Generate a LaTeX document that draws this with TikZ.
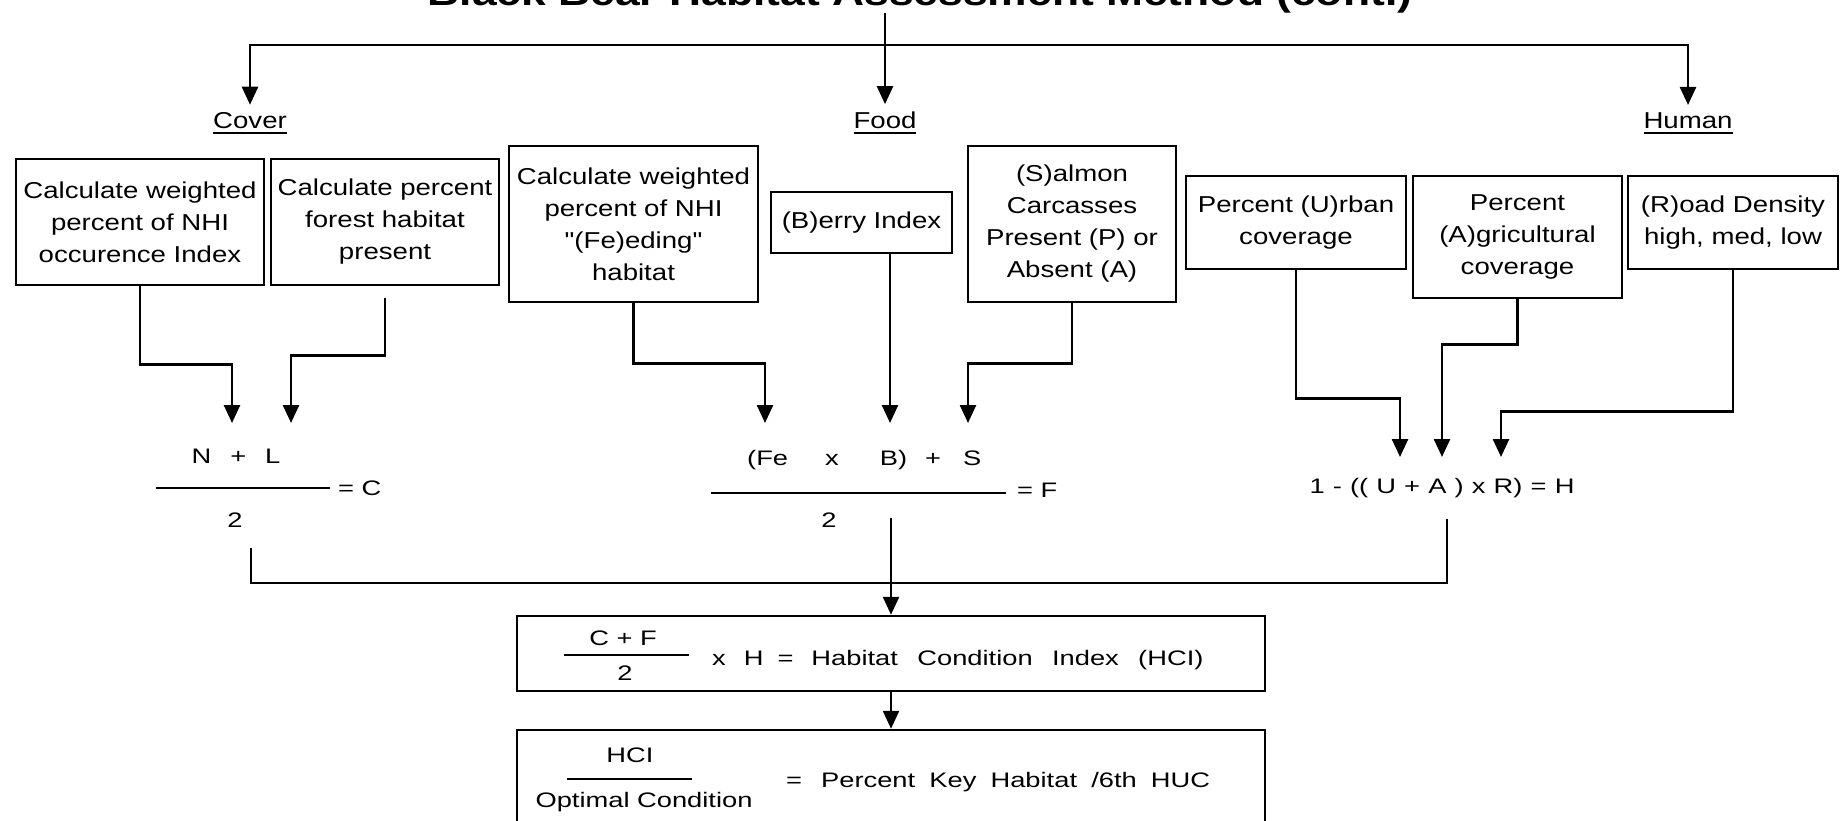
\documentclass[tikz,border=0pt]{standalone}
\usepackage{fontspec}
\setmainfont{Liberation Sans}[FakeStretch=1.2, Ligatures=TeXOff]
\newfontfamily\fmlfam{Liberation Sans}[FakeStretch=1.3, Ligatures=TeXOff]
\usetikzlibrary{arrows.meta}
\newcommand\boxfont{\fontsize{23}{32}\selectfont}
\newcommand\fmlfont{\fmlfam\fontsize{21}{26}\selectfont}
\newcommand\myul[1]{\setbox0\hbox{#1}\rlap{\rule[-6pt]{\wd0}{2pt}}\box0}
\begin{document}
\begin{tikzpicture}[x=1pt,y=-1pt,
  every node/.style={inner sep=0pt},
  box/.style={draw, line width=2.5pt, align=center, font=\boxfont, inner sep=0pt},
  ln/.style={line width=2.5pt},
  arr/.style={line width=2.5pt, -{Triangle[width=16pt,length=18pt]}},
  fml/.style={font=\fmlfont, anchor=base},
  lbl/.style={font=\boxfont, anchor=base, inner xsep=0pt, inner ysep=7pt}
]
\useasboundingbox (0,0) rectangle (1845,820);
\clip (0,0) rectangle (1845,820);
\fill[white] (0,0) rectangle (1845,820);

% title (cut off at the top, as in the reference)
\node[font=\fontsize{37}{40}\selectfont\bfseries, anchor=base] (title) at (920,5) {Black Bear Habitat Assessment Method (cont.)};

% category labels
\node[lbl] (cover) at (250,128) {\myul{Cover}};
\node[lbl] (food) at (885,128) {\myul{Food}};
\node[lbl] (human) at (1688,128) {\myul{Human}};

\coordinate (jt) at (885,45);
\draw[arr] (food.north |- title.south) -- (food.north);
\draw[ln] (cover.north |- jt) -- (human.north |- jt);
\draw[arr] (jt) -| (cover.north);
\draw[arr] (jt) -| (human.north);

% input boxes
\node[box, minimum width=248pt, minimum height=126pt] (b1) at (140,222) {Calculate weighted\\percent of NHI\\occurence Index};
\node[box, minimum width=228pt, minimum height=126pt] (b2) at (385,222) {Calculate percent\\forest habitat\\present};
\node[box, minimum width=249pt, minimum height=156pt] (b3) at (633.5,224) {Calculate weighted\\percent of NHI\\"(Fe)eding"\\habitat};
\node[box, minimum width=181pt, minimum height=61pt] (b4) at (861.5,222.5) {(B)erry Index};
\node[box, minimum width=208pt, minimum height=156pt] (b5) at (1072,224) {(S)almon\\Carcasses\\Present (P) or\\Absent (A)};
\node[box, minimum width=220pt, minimum height=93pt] (b6) at (1296,222.5) {Percent (U)rban\\coverage};
\node[box, minimum width=209pt, minimum height=122pt] (b7) at (1517.5,237) {Percent\\(A)gricultural\\coverage};
\node[box, minimum width=210pt, minimum height=93pt] (b8) at (1733,222.5) {(R)oad Density\\high, med, low};

% arrow targets
\coordinate (tN) at (232,423);
\coordinate (tL) at (291,423);
\coordinate (tFe) at (765,423);
\coordinate (tB) at (890,423);
\coordinate (tS) at (968,423);
\coordinate (tU) at (1400,457);
\coordinate (tA) at (1442,457);
\coordinate (tR) at (1501,457);

\draw[arr] (b1.south) -- ++(0,78) -| (tN);
\draw[arr] ([yshift=-12pt]b2.south) -- ++(0,57) -| (tL);
\draw[arr] (b3.south) -- ++(0,60) -| (tFe);
\draw[arr] (b4.south -| tB) -- (tB);
\draw[arr] (b5.south) -- ++(0,60) -| (tS);
\draw[arr] (b6.south) -- ++(0,128) -| (tU);
\draw[arr] (b7.south) -- ++(0,45) -| (tA);
\draw[arr] (b8.south) -- ++(0,141) -| (tR);

% formula C
\node[fml] (numC) at (236,463) {N\hspace{19pt}+\hspace{19pt}L};
\draw[ln] (156,488) -- (330,488);
\node[fml, anchor=base west] (eqC) at (338,495) {= C};
\node[fml] (denC) at (235,527) {2};

% formula F
\node[fml, anchor=base west] (numF) at (747,465) {(Fe\hspace{37pt}x\hspace{41pt}B)\hspace{18pt}+\hspace{22pt}S};
\draw[ln] (711,493) -- (1006,493);
\node[fml, anchor=base west] (eqF) at (1017,497) {= F};
\node[fml] (denF) at (829,527) {2};

% formula H
\node[fml] (fH) at (1442,493) {\makebox[265pt][s]{1 - (( U + A ) x R) = H}};

% merge
\coordinate (cC) at (251,548);
\coordinate (cF) at (891,518);
\coordinate (cH) at (1447,519);
\coordinate (jb) at (891,583);
\draw[ln] (cC) -- (cC |- jb) -- (cH |- jb) -- (cH);

% HCI box
\node[box, minimum width=748pt, minimum height=75pt] (hci) at (891,653.5) {};
\draw[arr] (cF) -- (hci.north);
\node[fml] (numHCI) at (623,645) {C + F};
\draw[ln] (564,655) -- (689,655);
\node[fml] (denHCI) at (625,680) {2};
\node[fml, anchor=base west] (hcitext) at (712,665) {x\hspace{18pt}H\hspace{14pt}=\hspace{18pt}\makebox[392pt][s]{Habitat Condition Index (HCI)}};

% result box
\node[box, minimum width=748pt, minimum height=100pt] (res) at (891,780) {};
\draw[arr] (hci.south) -- (res.north);
\node[fml] (numR) at (630,762) {HCI};
\draw[ln] (567,779) -- (692,779);
\node[fml] (denR) at (644,807) {Optimal Condition};
\node[fml, anchor=base west] (restext) at (786,787) {=\hspace{19pt}\makebox[389pt][s]{Percent Key Habitat /6th HUC}};
\end{tikzpicture}
\end{document}
